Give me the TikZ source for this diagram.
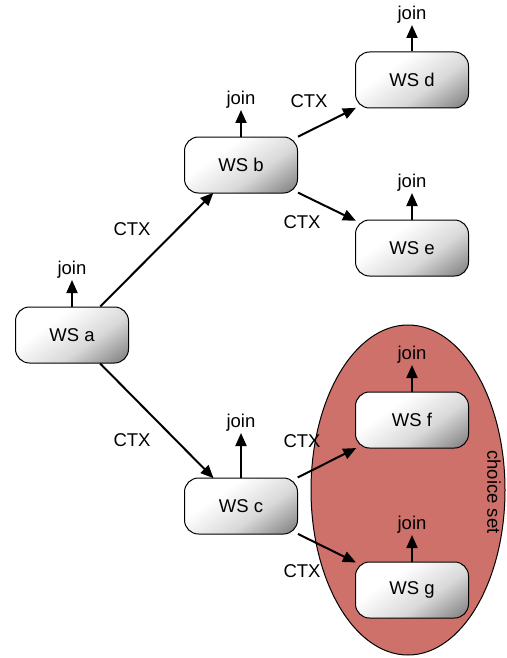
\documentclass[tikz,border=0pt]{standalone}
\usepackage{fontspec}
\setmainfont{Liberation Sans}
\usetikzlibrary{arrows.meta,shapes.geometric}
\definecolor{choicefill}{HTML}{CD716A}
\pgfdeclarehorizontalshading{wsgrad}{100bp}{color(0bp)=(white); color(36bp)=(white); color(60bp)=(black!15); color(80bp)=(black!45); color(100bp)=(black!85)}
\tikzset{
  wsbox/.style={draw=black, line width=1pt, rounded corners=14pt, shading=wsgrad, shading angle=-55,
    minimum width=113pt, minimum height=56pt, font=\fontsize{18.5}{20}\selectfont},
  lbl/.style={font=\fontsize{18.5}{20}\selectfont, inner sep=0pt},
  joinlbl/.style={lbl, anchor=south, inner sep=1pt},
  ctxarrow/.style={line width=2pt, -{Triangle[length=13pt,width=11pt]}, shorten >=-1pt},
  joinarrow/.style={line width=2pt, -{Triangle[length=13pt,width=11pt]}},
}
\begin{document}
\begin{tikzpicture}[x=1pt, y=-1pt]
\useasboundingbox (0,0) rectangle (506,658);

% choice set region
\node[ellipse, draw=black, line width=1pt, fill=choicefill, minimum width=194pt, minimum height=330pt, inner sep=0pt] (cs) at (408,490) {};
\node[lbl, rotate=-90] (cslbl) at (494,492) {choice set};

% web services
\node[wsbox] (a) at (72,335) {WS a};
\node[wsbox] (b) at (241,165) {WS b};
\node[wsbox] (c) at (241,506) {WS c};
\node[wsbox] (d) at (412,80) {WS d};
\node[wsbox] (e) at (412,248) {WS e};
\node[wsbox] (f) at (412,420) {WS f};
\node[wsbox] (g) at (412,590) {WS g};

% context passing
\draw[ctxarrow] (a) -- (b);
\draw[ctxarrow] (a) -- (c);
\draw[ctxarrow] (b) -- (d);
\draw[ctxarrow] (b) -- (e);
\draw[ctxarrow] (c) -- (f);
\draw[ctxarrow] (c) -- (g);

\node[lbl] (ctx1) at (132,229) {CTX};
\node[lbl] (ctx2) at (132,440) {CTX};
\node[lbl] (ctx3) at (309,101) {CTX};
\node[lbl] (ctx4) at (302,222) {CTX};
\node[lbl] (ctx5) at (302,441) {CTX};
\node[lbl] (ctx6) at (302,571) {CTX};

% join points
\coordinate (ta) at (72,280);
\coordinate (tb) at (241,110);
\coordinate (tc) at (241,433);
\coordinate (td) at (412,25);
\coordinate (te) at (412,193);
\coordinate (tf) at (412,365);
\coordinate (tg) at (412,535);
\foreach \n in {a,b,c,d,e,f,g}{
  \draw[joinarrow] (\n.north) -- (t\n);
  \node[joinlbl] (j\n) at (t\n) {join};
}
\end{tikzpicture}
\end{document}
